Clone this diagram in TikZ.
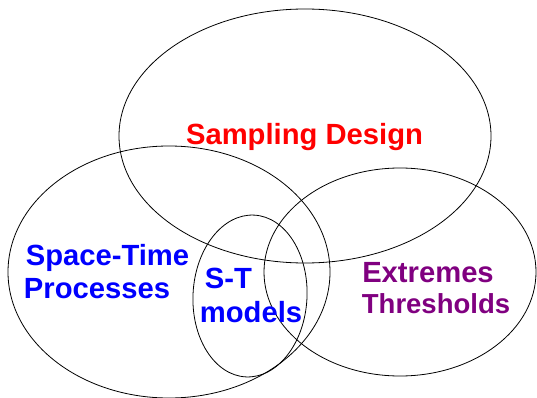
\documentclass[tikz,border=0pt]{standalone}
\usepackage{fontspec}
\setmainfont{Liberation Sans}
\begin{document}
\begin{tikzpicture}[x=1pt,y=-1pt,
  setline/.style={draw=black,line width=0.8pt},
  lbl/.style={font=\fontsize{29.2}{33}\selectfont\bfseries,inner sep=0pt,anchor=base}]
\useasboundingbox (0,0) rectangle (537,398);
% the four overlapping sets
\draw[setline] (305,136) ellipse [x radius=186,y radius=127];
\draw[setline] (169,272) ellipse [x radius=161,y radius=126];
\draw[setline] (400,272) ellipse [x radius=136,y radius=104];
\draw[setline] (250,296) ellipse [x radius=57,y radius=81,rotate=-3];
% labels
\node[lbl,text={rgb,255:red,255;green,0;blue,0}] (sd) at (304.5,145) {Sampling Design};
\node[lbl,text={rgb,255:red,0;green,0;blue,255}] (st1) at (107.5,265) {Space-Time};
\node[lbl,text={rgb,255:red,0;green,0;blue,255}] (st2) at (97,298) {Processes};
\node[lbl,text={rgb,255:red,0;green,0;blue,255}] (stm1) at (228.5,288) {S-T};
\node[lbl,text={rgb,255:red,0;green,0;blue,255}] (stm2) at (251,322) {models};
\node[lbl,text={rgb,255:red,128;green,0;blue,128}] (ex1) at (428,282) {Extremes};
\node[lbl,text={rgb,255:red,128;green,0;blue,128},font=\fontsize{27.5}{33}\selectfont\bfseries] (ex2) at (436,313) {Thresholds};
\end{tikzpicture}
\end{document}
